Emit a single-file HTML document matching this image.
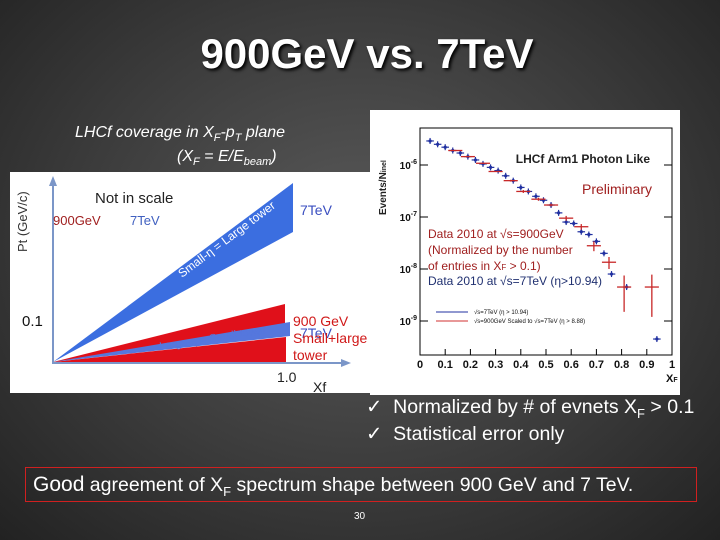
<!DOCTYPE html>
<html><head><meta charset="utf-8"><style>
body{margin:0}
#s{position:relative;width:720px;height:540px;overflow:hidden;font-family:"Liberation Sans",sans-serif;background:radial-gradient(ellipse at 50% 45%,#5a5a5a 0%,#3c3c3c 55%,#222 100%);color:#fff}
.a{position:absolute;white-space:nowrap}
</style></head><body>
<div id="s">
<div class="a" style="left:0;width:734px;text-align:center;top:30px;font-size:42px;font-weight:bold;text-shadow:2px 2px 3px #000">900GeV vs. 7TeV</div>
<div class="a" style="left:75px;top:124px;font-size:16px;font-style:italic">LHCf coverage in X<sub style="font-size:11px">F</sub>-p<sub style="font-size:11px">T</sub> plane</div>
<div class="a" style="left:177px;top:148px;font-size:16px;font-style:italic">(X<sub style="font-size:11px">F</sub> = E/E<sub style="font-size:11px">beam</sub>)</div>

<svg class="a" style="left:0;top:0" width="720" height="540" font-family="Liberation Sans">
<rect x="10" y="172" width="362" height="221" fill="#fff"/>
<polygon points="53,362 293,183 293,232" fill="#3b6ee0"/>
<polygon points="53,362 285,304 285,330" fill="#e0101a"/>
<polygon points="53,362 290,322 290,336" fill="#5577dd"/>
<polygon points="53,362 286,337 286,364" fill="#e0101a"/>
<line x1="53" y1="364" x2="53" y2="180" stroke="#7b96c8" stroke-width="2"/>
<polygon points="53,176 49,186 57,186" fill="#7b96c8"/>
<line x1="53" y1="363" x2="346" y2="363" stroke="#7b96c8" stroke-width="2"/>
<polygon points="351,363 341,359 341,367" fill="#7b96c8"/>
<text x="95" y="203" font-size="15" fill="#222">Not in scale</text>
<text x="53" y="225" font-size="13" fill="#a02020">900GeV</text>
<text x="130" y="225" font-size="13" fill="#4060c0">7TeV</text>
<text x="300" y="215" font-size="14" fill="#3b4fc0">7TeV</text>
<text x="22" y="326" font-size="15" fill="#111">0.1</text>
<text x="277" y="382" font-size="14" fill="#222">1.0</text>
<text x="313" y="392" font-size="14" fill="#222">Xf</text>
<text transform="translate(27,252) rotate(-90)" font-size="13" fill="#333">Pt (GeV/c)</text>
<text transform="translate(182,278) rotate(-37)" font-size="12" fill="#fff">Small-η = Large tower</text>
<text transform="translate(160,350) rotate(-9)" font-size="11" fill="#5577dd">Large-η = Small tower</text>
<text x="300" y="338" font-size="14" fill="#3b4fc0">7TeV</text>
<text x="293" y="326" font-size="14" fill="#d01818">900 GeV</text>
<text x="293" y="343" font-size="14" fill="#d01818">Small+large</text>
<text x="293" y="360" font-size="14" fill="#d01818">tower</text>
</svg>

<svg class="a" id="sp" style="left:0;top:0" width="720" height="540" font-family="Liberation Sans">
<rect x="370" y="110" width="310" height="285" fill="#fff"/>
<rect x="420" y="128" width="252" height="227" fill="none" stroke="#000" stroke-width="1"/>
<g id="ax"></g><g id="marks"></g>
<text x="650" y="163" font-size="12" font-weight="bold" text-anchor="end" fill="#222">LHCf Arm1 Photon Like</text>
<text x="652" y="194" font-size="14" text-anchor="end" fill="#a02020">Preliminary</text>
<text transform="translate(386,215) rotate(-90)" font-size="10" font-weight="bold" fill="#222">Events/N<tspan font-size="7">inel</tspan></text>
<text x="428" y="238" font-size="12" fill="#a02020">Data 2010 at √s=900GeV</text>
<text x="428" y="254" font-size="12" fill="#a02020">(Normalized by the number</text>
<text x="428" y="270" font-size="12" fill="#a02020"> of entries in X<tspan font-size="8">F</tspan> &gt; 0.1)</text>
<text x="428" y="285" font-size="12" fill="#203070">Data 2010 at √s=7TeV (η&gt;10.94)</text>
<line x1="436" y1="312" x2="468" y2="312" stroke="#2030a0"/><text x="474" y="314" font-size="6" fill="#111">√s=7TeV (η &gt; 10.94)</text>
<line x1="436" y1="321" x2="468" y2="321" stroke="#d03030"/><text x="474" y="323" font-size="6" fill="#111">√s=900GeV Scaled to √s=7TeV (η &gt; 8.88)</text>
<text x="666" y="382" font-size="11" font-weight="bold" fill="#111">X<tspan font-size="7">F</tspan></text>
</svg>

<div class="a" style="left:366px;top:395px;font-size:19.5px">✓&nbsp; Normalized by # of evnets X<sub style="font-size:13px">F</sub> &gt; 0.1</div>
<div class="a" style="left:366px;top:422px;font-size:19.5px">✓&nbsp; Statistical error only</div>
<div class="a" style="left:25px;top:467px;width:672px;height:35px;border:1px solid #d02020;box-sizing:border-box"></div>
<div class="a" style="left:33px;top:473px;font-size:19.5px"><span style="font-size:21px">Good</span> agreement of X<sub style="font-size:13px">F</sub> spectrum shape between 900 GeV and 7 TeV.</div>
<div class="a" style="left:354px;top:511px;font-size:10px">30</div>
</div>
<script>
const xTicks=[0,0.1,0.2,0.3,0.4,0.5,0.6,0.7,0.8,0.9,1];
const xTickLabels=["0","0.1","0.2","0.3","0.4","0.5","0.6","0.7","0.8","0.9","1"];
const yDecades=[-6,-7,-8,-9];
const blueX=[0.04,0.07,0.10,0.13,0.16,0.19,0.22,0.25,0.28,0.31,0.34,0.37,0.40,0.43,0.46,0.49,0.52,0.55,0.58,0.61,0.64,0.67,0.70,0.73,0.76,0.82,0.94];
const blueY=[2.9e-6,2.5e-6,2.2e-6,1.9e-6,1.7e-6,1.45e-6,1.25e-6,1.05e-6,9e-7,7.8e-7,6.2e-7,5e-7,3.7e-7,3.1e-7,2.5e-7,2.1e-7,1.7e-7,1.2e-7,8e-8,7.5e-8,5.2e-8,4.6e-8,3.4e-8,2e-8,8e-9,4.5e-9,4.5e-10];
const redX=[0.14,0.19,0.25,0.30,0.36,0.41,0.47,0.52,0.58,0.64,0.69,0.75,0.81,0.92];
const redY=[1.9e-6,1.45e-6,1.08e-6,7.5e-7,5e-7,3.1e-7,2.2e-7,1.7e-7,9.5e-8,6.5e-8,2.8e-8,1.35e-8,4.5e-9,4.5e-9];
const redErr=[0.05e-6,0.04e-6,0.03e-6,0.03e-7,0.2e-7,0.2e-7,0.15e-7,0.1e-7,0.1e-7,0.08e-7,0.6e-8,0.35e-8,3e-9,3.3e-9];
const NS="http://www.w3.org/2000/svg";
const X=v=>420+v*252, Y=v=>165-(Math.log10(v)+6)*52;
function mk(t,a,p){const e=document.createElementNS(NS,t);for(const k in a)e.setAttribute(k,a[k]);p.appendChild(e);return e;}
const ax=document.getElementById('ax'),mg=document.getElementById('marks');
xTicks.forEach((t,i)=>{const l=mk('line',{x1:X(t),x2:X(t),y1:355,y2:349,stroke:'#000'},ax);


const tx=mk('text',{x:X(t),y:368,'font-size':11,'font-weight':'bold','text-anchor':'middle',fill:'#111'},ax);tx.textContent=xTickLabels[i];

});
yDecades.forEach(d=>{const y=Y(Math.pow(10,d));mk('line',{x1:420,x2:428,y1:y,y2:y,stroke:'#000'},ax);mk('line',{x1:672,x2:664,y1:y,y2:y,stroke:'#000'},ax);
const tx=mk('text',{x:417,y:y+4,'font-size':10,'font-weight':'bold','text-anchor':'end',fill:'#111'},ax);tx.textContent='10';
const sp=mk('tspan',{dy:-5,'font-size':7},tx);sp.textContent=String(d);

});
blueX.forEach((x,i)=>{const g=mk('g',{},mg);


const y=Y(blueY[i]);mk('line',{x1:X(x-0.015),x2:X(x+0.015),y1:y,y2:y,stroke:'#2030a0','stroke-width':1.2},g);mk('line',{x1:X(x),x2:X(x),y1:y-3,y2:y+3,stroke:'#2030a0','stroke-width':1.2},g);mk('circle',{cx:X(x),cy:y,r:1.6,fill:'#2030a0'},g);});
redX.forEach((x,i)=>{const g=mk('g',{},mg);


const y=Y(redY[i]);mk('line',{x1:X(x-0.028),x2:X(x+0.028),y1:y,y2:y,stroke:'#c82828','stroke-width':1.3},g);mk('line',{x1:X(x),x2:X(x),y1:Y(redY[i]+redErr[i]),y2:Y(Math.max(redY[i]-redErr[i],1e-10)),stroke:'#c82828','stroke-width':1.3},g);});
</script>
</body></html>
